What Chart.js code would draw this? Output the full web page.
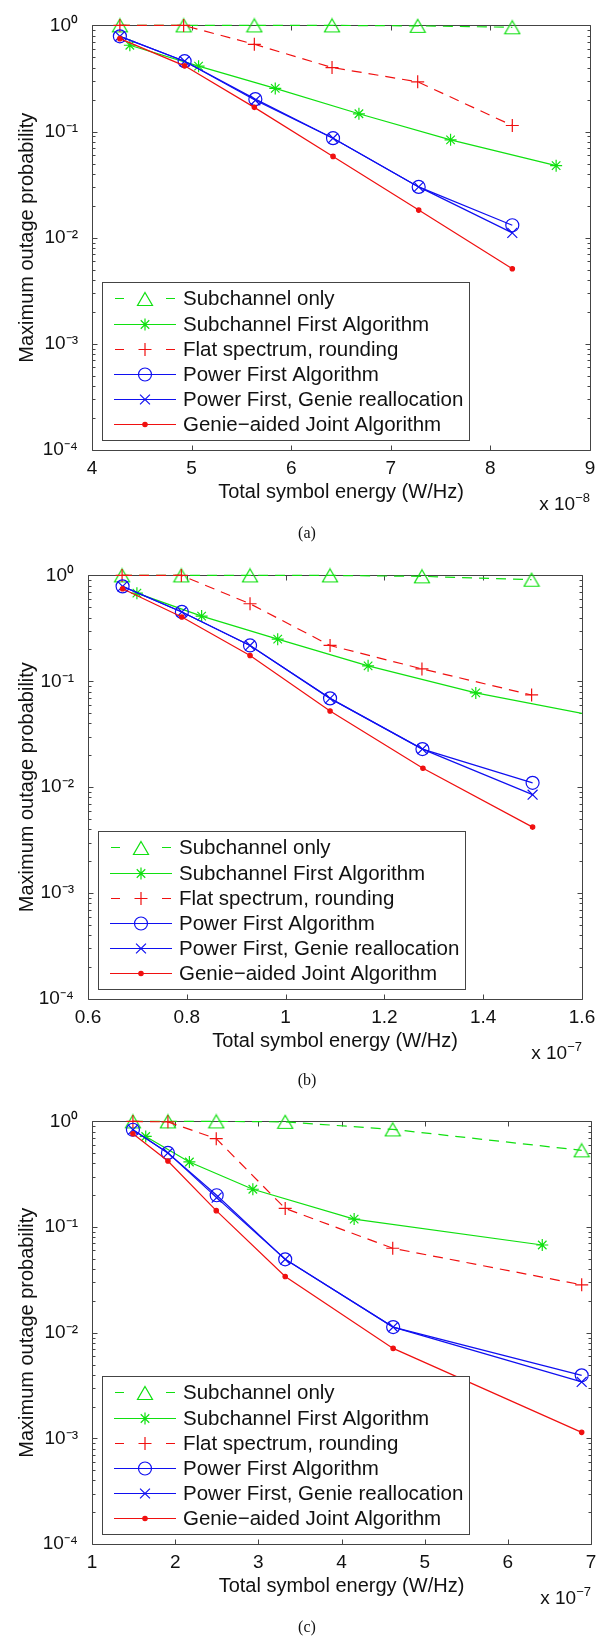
<!DOCTYPE html>
<html>
<head>
<meta charset="utf-8">
<script src="https://cdn.jsdelivr.net/npm/chart.js@4.4.1/dist/chart.umd.min.js"></script>
<style>
html,body{margin:0;padding:0;background:#fff;}
body{width:610px;height:1638px;position:relative;overflow:hidden;}
canvas{position:absolute;left:0;}
.mult{position:absolute;font-family:"Liberation Sans",Arial,sans-serif;font-size:19px;line-height:19px;color:#111;white-space:nowrap;}
.mult span{font-size:13px;position:relative;top:-8px;}
.cap{position:absolute;left:0;width:614px;text-align:center;font-family:"Liberation Serif","Times New Roman",serif;font-size:16px;line-height:16px;color:#111;}
</style>
</head>
<body>
<script>
// ---------------- DATA ----------------
const SERIES_LABELS = ['Subchannel only', 'Subchannel First Algorithm', 'Flat spectrum, rounding',
  'Power First Algorithm', 'Power First, Genie reallocation', 'Genie\u2212aided Joint Algorithm'];
const Y_TICKS = [1e-4, 1e-3, 1e-2, 1e-1, 1];

// Panel (a): x in units of 1e-8 W/Hz
const a_xTicks = [4, 5, 6, 7, 8, 9];
const a_subOnly_x   = [4.28, 4.92, 5.63, 6.41, 7.27, 8.22];
const a_subOnly_y   = [1, 1, 1, 1, 0.99, 0.96];
const a_subFirst_x  = [4.38, 5.07, 5.84, 6.68, 7.60, 8.66];
const a_subFirst_y  = [0.65, 0.413, 0.255, 0.147, 0.0835, 0.0477];
const a_flat_x      = [4.28, 4.92, 5.63, 6.41, 7.27, 8.22];
const a_flat_y      = [1, 1, 0.664, 0.401, 0.294, 0.114];
const a_power_x     = [4.28, 4.93, 5.64, 6.42, 7.28, 8.22];
const a_power_y     = [0.789, 0.46, 0.202, 0.0866, 0.0301, 0.0131];
const a_genieRe_x   = [4.28, 4.93, 5.64, 6.42, 7.28, 8.22];
const a_genieRe_y   = [0.789, 0.46, 0.197, 0.0866, 0.0301, 0.0111];
const a_joint_x     = [4.28, 4.93, 5.63, 6.42, 7.28, 8.22];
const a_joint_y     = [0.75, 0.416, 0.169, 0.0583, 0.0182, 0.0051];

// Panel (b): x in units of 1e-7 W/Hz
const b_xTicks = [0.6, 0.8, 1.0, 1.2, 1.4, 1.6];
const b_subOnly_x   = [0.669, 0.789, 0.928, 1.090, 1.276, 1.498];
const b_subOnly_y   = [1, 1, 1, 1, 0.98, 0.91];
const b_subFirst_x  = [0.699, 0.830, 0.984, 1.167, 1.385, 1.70];
const b_subFirst_y  = [0.68, 0.413, 0.25, 0.14, 0.0777, 0.0405];
const b_flat_x      = [0.669, 0.789, 0.928, 1.090, 1.276, 1.498];
const b_flat_y      = [1, 1, 0.54, 0.218, 0.131, 0.0743];
const b_power_x     = [0.670, 0.790, 0.928, 1.090, 1.277, 1.500];
const b_power_y     = [0.788, 0.452, 0.218, 0.069, 0.0229, 0.011];
const b_genieRe_x   = [0.670, 0.790, 0.928, 1.090, 1.277, 1.500];
const b_genieRe_y   = [0.788, 0.452, 0.218, 0.069, 0.0229, 0.0085];
const b_joint_x     = [0.670, 0.790, 0.928, 1.090, 1.278, 1.500];
const b_joint_y     = [0.748, 0.405, 0.175, 0.0524, 0.0151, 0.0042];

// Panel (c): x in units of 1e-7 W/Hz
const c_xTicks = [1, 2, 3, 4, 5, 6, 7];
const c_subOnly_x   = [1.492, 1.913, 2.494, 3.323, 4.616, 6.888];
const c_subOnly_y   = [1, 1, 1, 0.99, 0.84, 0.532];
const c_subFirst_x  = [1.646, 2.171, 2.934, 4.152, 6.414];
const c_subFirst_y  = [0.72, 0.413, 0.228, 0.119, 0.0676];
const c_flat_x      = [1.492, 1.913, 2.494, 3.323, 4.616, 6.888];
const c_flat_y      = [1, 0.99, 0.686, 0.15, 0.063, 0.0284];
const c_power_x     = [1.492, 1.913, 2.499, 3.323, 4.621, 6.888];
const c_power_y     = [0.834, 0.503, 0.2, 0.0495, 0.0113, 0.00395];
const c_genieRe_x   = [1.492, 1.913, 2.499, 3.323, 4.621, 6.888];
const c_genieRe_y   = [0.834, 0.503, 0.19, 0.0495, 0.0113, 0.00342];
const c_joint_x     = [1.492, 1.913, 2.494, 3.323, 4.621, 6.888];
const c_joint_y     = [0.765, 0.422, 0.143, 0.034, 0.0071, 0.00114];

// ---------------- STYLE ----------------
const GREEN = '#10e010', RED = '#f01010', BLUE = '#1010f0';

// MATLAB-like '^' marker: equilateral triangle centred on its bounding box
function makeTriangleImage(color) {
  const c = document.createElement('canvas');
  c.width = 18; c.height = 16;
  const g = c.getContext('2d');
  g.strokeStyle = color; g.lineWidth = 1.2;
  g.beginPath();
  g.moveTo(9, 1.5); g.lineTo(16.5, 14.5); g.lineTo(1.5, 14.5); g.closePath();
  g.stroke();
  return c;
}
const TRI_IMG = makeTriangleImage(GREEN);

const STYLES = [
  {color: GREEN, dash: [10, 7], point: TRI_IMG,    r: 8,   fill: false},
  {color: GREEN, dash: [],      point: 'star',     r: 6,   fill: false},
  {color: RED,   dash: [10, 7], point: 'cross',    r: 6.5, fill: false},
  {color: BLUE,  dash: [],      point: 'circle',   r: 6.5, fill: false},
  {color: BLUE,  dash: [],      point: 'crossRot', r: 7,   fill: false},
  {color: RED,   dash: [],      point: 'circle',   r: 2.2, fill: true}
];
const SANS = '"Liberation Sans", Arial, sans-serif';
const TXT = '#111';
const AXC = '#444';

const PANELS = [
  {top: 0, H: 550, L: 92, R: 590, T: 22, B: 450, xMin: 4, xMax: 9, xTicks: a_xTicks, exp: '\u22128', cap: '(a)', capY: 533,
   series: [[a_subOnly_x, a_subOnly_y], [a_subFirst_x, a_subFirst_y], [a_flat_x, a_flat_y], [a_power_x, a_power_y], [a_genieRe_x, a_genieRe_y], [a_joint_x, a_joint_y]]},
  {top: 550, H: 546, L: 88, R: 582, T: 22, B: 449, xMin: 0.6, xMax: 1.6, xTicks: b_xTicks, exp: '\u22127', cap: '(b)', capY: 1080,
   series: [[b_subOnly_x, b_subOnly_y], [b_subFirst_x, b_subFirst_y], [b_flat_x, b_flat_y], [b_power_x, b_power_y], [b_genieRe_x, b_genieRe_y], [b_joint_x, b_joint_y]]},
  {top: 1096, H: 542, L: 92, R: 591, T: 22, B: 448, xMin: 1, xMax: 7, xTicks: c_xTicks, exp: '\u22127', cap: '(c)', capY: 1627,
   series: [[c_subOnly_x, c_subOnly_y], [c_subFirst_x, c_subFirst_y], [c_flat_x, c_flat_y], [c_power_x, c_power_y], [c_genieRe_x, c_genieRe_y], [c_joint_x, c_joint_y]]}
];

const SUP = {'0': '\u2070', '1': '\u00B9', '2': '\u00B2', '3': '\u00B3', '4': '\u2074', '-': '\u207B'};
function supText(n) { return String(n).split('').map(ch => SUP[ch] || ch).join(''); }

function drawMarker(ctx, st, x, y) {
  const r = st.r;
  if (typeof st.point !== 'string') {
    ctx.drawImage(st.point, Math.round(x - st.point.width / 2), Math.round(y - st.point.height / 2));
    return;
  }
  ctx.save();
  ctx.setLineDash([]);
  ctx.strokeStyle = st.color; ctx.fillStyle = st.color; ctx.lineWidth = 1.2;
  ctx.beginPath();
  if (st.point === 'circle') {
    ctx.arc(x, y, r, 0, Math.PI * 2);
    if (st.fill) ctx.fill();
  } else {
    if (st.point === 'cross' || st.point === 'star') {
      ctx.moveTo(x, y - r); ctx.lineTo(x, y + r); ctx.moveTo(x - r, y); ctx.lineTo(x + r, y);
    }
    if (st.point === 'crossRot' || st.point === 'star') {
      const d = r * Math.SQRT1_2;
      ctx.moveTo(x - d, y - d); ctx.lineTo(x + d, y + d); ctx.moveTo(x - d, y + d); ctx.lineTo(x + d, y - d);
    }
  }
  ctx.stroke();
  ctx.restore();
}

function framePlugin() {
  return {
    id: 'matlabFrame',
    beforeDatasetsDraw(chart) {
      const ctx = chart.ctx, ca = chart.chartArea, xs = chart.scales.x, ys = chart.scales.y;
      ctx.save();
      ctx.strokeStyle = AXC; ctx.lineWidth = 1; ctx.setLineDash([]);
      const l = Math.round(ca.left) + 0.5, r = Math.round(ca.right) + 0.5;
      const t = Math.round(ca.top) + 0.5, b = Math.round(ca.bottom) + 0.5;
      ctx.beginPath();
      ctx.rect(l, t, r - l, b - t);
      xs.ticks.forEach(tk => {
        const px = Math.round(xs.getPixelForValue(tk.value)) + 0.5;
        ctx.moveTo(px, b); ctx.lineTo(px, b - 5);
        ctx.moveTo(px, t); ctx.lineTo(px, t + 5);
      });
      for (let e = -4; e <= 0; e++) {
        for (let k = 1; k <= 9; k++) {
          const v = k * Math.pow(10, e);
          if (v > 1.0000001) break;
          const py = Math.round(ys.getPixelForValue(v)) + 0.5;
          const len = k === 1 ? 5 : 3;
          ctx.moveTo(l, py); ctx.lineTo(l + len, py);
          ctx.moveTo(r, py); ctx.lineTo(r - len, py);
        }
      }
      ctx.stroke();
      ctx.restore();
    },
    afterDatasetsDraw(chart) {
      const ctx = chart.ctx, ca = chart.chartArea;
      const lw = 367, lh = 158;
      const lx = Math.round(ca.left) + 10, ly = Math.round(ca.bottom) - 10 - lh;
      ctx.save();
      ctx.fillStyle = '#fff';
      ctx.fillRect(lx, ly, lw, lh);
      ctx.strokeStyle = AXC; ctx.lineWidth = 1;
      ctx.strokeRect(lx + 0.5, ly + 0.5, lw, lh);
      chart.data.datasets.forEach((ds, i) => {
        const st = STYLES[i];
        const cy = Math.round(ly + 16.3 + i * 25.2) + 0.5;
        ctx.strokeStyle = st.color; ctx.lineWidth = 1.2; ctx.setLineDash([]);
        ctx.beginPath();
        if (st.dash.length) {
          ctx.moveTo(lx + 13, cy); ctx.lineTo(lx + 22, cy);
          ctx.moveTo(lx + 64, cy); ctx.lineTo(lx + 73, cy);
        } else {
          ctx.moveTo(lx + 12, cy); ctx.lineTo(lx + 74, cy);
        }
        ctx.stroke();
        drawMarker(ctx, st, lx + 43, cy);
        ctx.fillStyle = TXT;
        ctx.font = '20.5px ' + SANS;
        ctx.textBaseline = 'middle';
        ctx.textAlign = 'left';
        ctx.fillText(ds.label, lx + 81, cy + 1);
      });
      ctx.restore();
    }
  };
}

function fmtX(v) { return String(Number(v.toFixed(3))); }

PANELS.forEach((p) => {
  const cv = document.createElement('canvas');
  cv.width = 610; cv.height = p.H;
  cv.style.top = p.top + 'px';
  cv.style.width = '610px'; cv.style.height = p.H + 'px';
  document.body.appendChild(cv);

  const datasets = p.series.map((s, i) => {
    const st = STYLES[i];
    return {
      label: SERIES_LABELS[i],
      data: s[0].map((x, j) => ({x: x, y: s[1][j]})),
      showLine: true,
      borderColor: st.color,
      backgroundColor: st.color,
      borderWidth: 1.2,
      borderDash: st.dash,
      pointStyle: st.point,
      pointRadius: st.r,
      pointHoverRadius: st.r,
      pointBorderColor: st.color,
      pointBackgroundColor: st.fill ? st.color : 'rgba(0,0,0,0)',
      pointBorderWidth: 1.2,
      tension: 0,
      clip: {left: 20, top: 20, right: 0, bottom: 20},
      order: 6 - i
    };
  });

  new Chart(cv, {
    type: 'scatter',
    data: {datasets: datasets},
    options: {
      responsive: false,
      animation: false,
      devicePixelRatio: 1,
      layout: {padding: {top: p.T, right: 610 - p.R, left: 0, bottom: 0}},
      plugins: {legend: {display: false}, tooltip: {enabled: false}},
      events: [],
      scales: {
        x: {
          type: 'linear', min: p.xMin, max: p.xMax,
          afterBuildTicks: (s) => { s.ticks = p.xTicks.map(v => ({value: v})); },
          afterFit: (s) => { s.height = p.H - p.B; },
          grid: {display: false, drawTicks: false},
          border: {display: false},
          ticks: {autoSkip: false, maxRotation: 0, minRotation: 0, padding: 7, color: TXT,
                  font: {family: SANS, size: 19, lineHeight: 1.2}, callback: (v) => fmtX(v)},
          title: {display: true, text: 'Total symbol energy (W/Hz)', color: TXT,
                  font: {family: SANS, size: 20, lineHeight: 1.2},
                  padding: {top: 0, bottom: p.H - p.B - 42 - 12}}
        },
        y: {
          type: 'logarithmic', min: 1e-4, max: 1,
          afterBuildTicks: (s) => { s.ticks = Y_TICKS.map(v => ({value: v})); },
          afterFit: (s) => { s.width = p.L; },
          grid: {display: false, drawTicks: false},
          border: {display: false},
          ticks: {autoSkip: false, padding: 14, color: TXT,
                  font: {family: SANS, size: 19, lineHeight: 1.2},
                  callback: (v) => '10' + supText(Math.round(Math.log10(v)))},
          title: {display: true, text: 'Maximum outage probability', color: TXT,
                  font: {family: SANS, size: 20, lineHeight: 1.2},
                  padding: {top: 15, bottom: 0}}
        }
      }
    },
    plugins: [framePlugin()]
  });

  const m = document.createElement('div');
  m.className = 'mult';
  m.style.right = (610 - p.R) + 'px';
  m.style.top = (p.top + p.B + 44) + 'px';
  m.innerHTML = 'x 10<span>' + p.exp + '</span>';
  document.body.appendChild(m);

  const c = document.createElement('div');
  c.className = 'cap';
  c.style.top = (p.capY - 8) + 'px';
  c.textContent = p.cap;
  document.body.appendChild(c);
});
</script>
</body>
</html>
